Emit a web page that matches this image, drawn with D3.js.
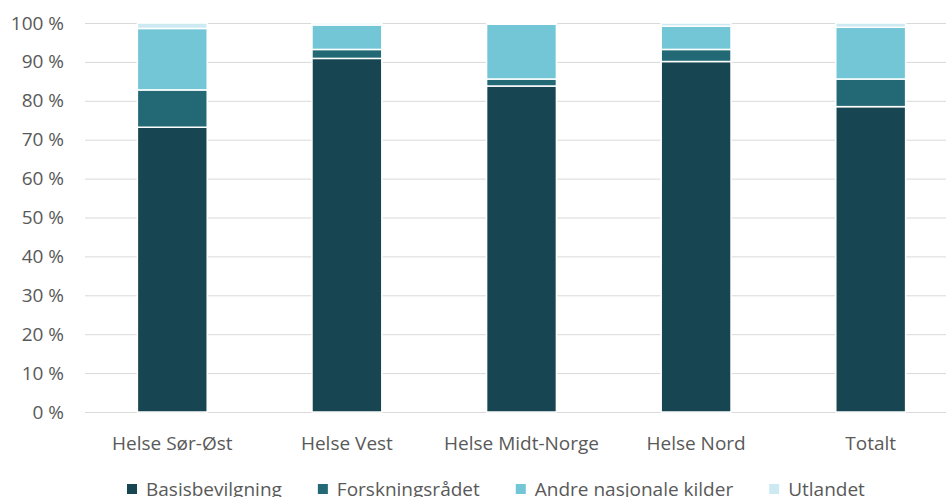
<!DOCTYPE html>
<html><head><meta charset="utf-8">
<script src="https://cdn.jsdelivr.net/npm/d3@7"></script>
<style>
html,body{margin:0;padding:0;background:#fff;}
svg{display:block;font-family:"Open Sans", sans-serif;}
</style></head>
<body>
<svg id="chart" width="946" height="497"></svg>
<script>
const categories = ["Helse Sør-Øst","Helse Vest","Helse Midt-Norge","Helse Nord","Totalt"];
const seriesNames = ["Basisbevilgning","Forskningsrådet","Andre nasjonale kilder","Utlandet"];
const basisbevilgning = [73.2, 90.9, 83.8, 90.1, 78.5];
const forskningsradet = [9.6, 2.3, 1.8, 3.1, 7.1];
const andreNasjonale = [15.8, 6.3, 14.1, 6.0, 13.3];
const utlandet = [1.4, 0.5, 0.3, 0.8, 1.1];
const yTicks = [0,10,20,30,40,50,60,70,80,90,100];
const colors = ["#174652","#236875","#72c6d6","#cdeaf2"];

const FONT = "'Open Sans', sans-serif";
const FS = "19px";

const seriesValues = [basisbevilgning, forskningsradet, andreNasjonale, utlandet];
const rows = categories.map((c,i)=>{
  const r = {cat:c};
  seriesNames.forEach((s,j)=> r[s] = seriesValues[j][i]);
  return r;
});
const stack = d3.stack().keys(seriesNames)(rows);

const svg = d3.select("#chart");
const x = d3.scaleBand().domain(categories).range([85, 958]).paddingInner(0.6).paddingOuter(0.3);
const y = d3.scaleLinear().domain([0,100]).range([412, 23]);

// gridlines
svg.append("g").selectAll("line").data(yTicks).join("line")
  .attr("x1", 85).attr("x2", 946)
  .attr("y1", d=>y(d)+0.5).attr("y2", d=>y(d)+0.5)
  .attr("stroke", "#d9d9d9").attr("stroke-width", 1);

// y axis labels
const yAxis = d3.axisLeft(y).tickValues(yTicks).tickFormat(d=>d+" %").tickSize(0).tickPadding(0);
const gy = svg.append("g").attr("transform","translate(64,0)").call(yAxis);
gy.select(".domain").remove();
gy.selectAll("text").attr("fill","#595959").style("font-size",FS).style("font-family",FONT);

// bars
svg.append("g").selectAll("g").data(stack).join("g")
  .attr("fill",(d,i)=>colors[i])
  .selectAll("rect").data(d=>d).join("rect")
  .attr("x", d=>x(d.data.cat))
  .attr("width", x.bandwidth())
  .attr("y", d=>y(d[1]))
  .attr("height", d=>Math.max(0, y(d[0])-y(d[1])))
  .attr("stroke","#fff").attr("stroke-width",1.5);

// x axis labels
const xAxis = d3.axisBottom(x).tickSize(0).tickPadding(0);
const gx = svg.append("g").attr("transform","translate(0,436)").call(xAxis);
gx.select(".domain").remove();
gx.selectAll("text").attr("fill","#595959").attr("dy","0.71em").style("font-size",FS).style("font-family",FONT);

// legend
const leg = svg.append("g");
let lx = 127;
seriesNames.forEach((s,i)=>{
  const g = leg.append("g").attr("transform",`translate(${lx},0)`);
  g.append("rect").attr("x",0).attr("y",484).attr("width",10).attr("height",10).attr("fill",colors[i]);
  const t = g.append("text").attr("x",19).attr("y",496).attr("fill","#595959")
    .style("font-size",FS).style("font-family",FONT).text(s);
  const w = t.node().getComputedTextLength();
  lx += 19 + w + 36;
});
</script>
</body></html>
